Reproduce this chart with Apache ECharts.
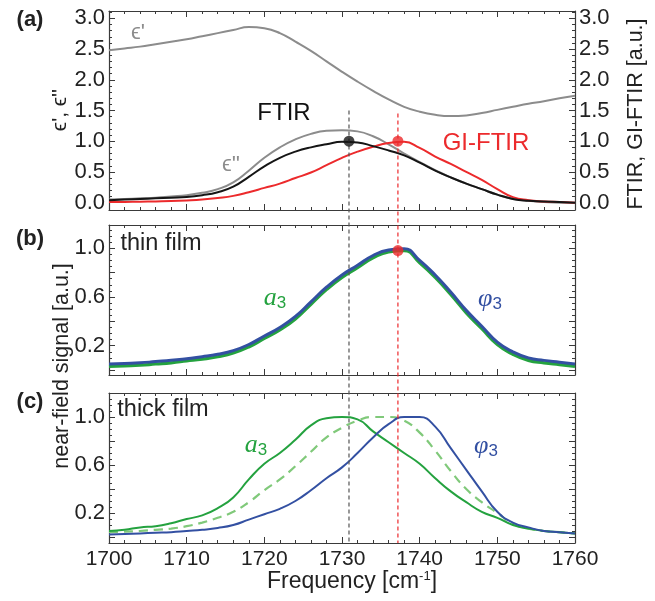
<!DOCTYPE html>
<html><head><meta charset="utf-8">
<script src="https://cdn.jsdelivr.net/npm/echarts@6/dist/echarts.min.js"></script>
<style>html,body{margin:0;padding:0;background:#fff}#c{width:655px;height:601px}</style>
</head><body><div id="c"></div>
<script>
// ---------- data ----------
const freq = [1700,1702,1704,1706,1708,1710,1712,1714,1716,1718,1720,1722,1724,1726,1728,1730,1732,1734,1736,1738,1740,1742,1744,1746,1748,1750,1752,1754,1756,1758,1760];
const xTicks = [1700,1710,1720,1730,1740,1750,1760];
// panel (a)
const epsReal = [2.48,2.51,2.54,2.58,2.62,2.66,2.71,2.76,2.81,2.86,2.84,2.76,2.62,2.47,2.30,2.13,1.97,1.82,1.68,1.56,1.48,1.43,1.41,1.42,1.46,1.51,1.56,1.61,1.65,1.70,1.74];
const epsImag = [0.05,0.06,0.07,0.08,0.10,0.12,0.16,0.22,0.33,0.52,0.73,0.90,1.03,1.12,1.17,1.18,1.16,1.08,0.95,0.80,0.66,0.53,0.41,0.31,0.22,0.13,0.06,0.03,0.01,0.0,0.0];
const ftir = [0.04,0.05,0.06,0.07,0.08,0.09,0.12,0.17,0.26,0.42,0.59,0.73,0.83,0.90,0.95,0.99,0.98,0.92,0.85,0.77,0.65,0.52,0.41,0.31,0.22,0.13,0.06,0.03,0.02,0.01,0.0];
const giftir = [0.01,0.012,0.015,0.02,0.025,0.035,0.05,0.075,0.11,0.17,0.24,0.31,0.40,0.49,0.61,0.73,0.83,0.91,0.97,0.99,0.89,0.75,0.63,0.50,0.37,0.22,0.09,0.04,0.02,0.01,0.0];
const aTicks = [0,0.5,1.0,1.5,2.0,2.5,3.0];
const ftirPeak = [1730.9, 1.0];
const giftirPeak = [1737.2, 1.0];
// panel (b) thin film
const thinAmp = [0.03,0.035,0.04,0.05,0.06,0.075,0.09,0.11,0.14,0.19,0.26,0.33,0.42,0.54,0.66,0.76,0.84,0.92,0.97,0.98,0.88,0.76,0.62,0.47,0.34,0.21,0.13,0.08,0.06,0.045,0.03];
const thinPhi = [0.05,0.055,0.06,0.07,0.08,0.094,0.11,0.13,0.16,0.21,0.28,0.35,0.44,0.56,0.68,0.78,0.86,0.94,0.985,0.995,0.90,0.78,0.64,0.49,0.36,0.23,0.15,0.10,0.08,0.065,0.05];
const thinPeak = [1737.2, 0.98];
// panel (c) thick film
const thickAmp = [0.05,0.06,0.08,0.09,0.115,0.15,0.18,0.24,0.33,0.48,0.61,0.70,0.81,0.93,0.99,1.0,0.98,0.88,0.79,0.70,0.61,0.49,0.38,0.29,0.21,0.16,0.10,0.07,0.05,0.04,0.03];
const thickAmpDash = [0.04,0.045,0.05,0.06,0.07,0.09,0.12,0.16,0.21,0.29,0.39,0.48,0.59,0.71,0.83,0.91,0.97,1.0,1.0,0.97,0.87,0.72,0.55,0.40,0.29,0.20,0.11,0.07,0.05,0.04,0.03];
const thickPhi = [0.02,0.025,0.03,0.035,0.04,0.05,0.06,0.075,0.10,0.145,0.19,0.235,0.30,0.39,0.49,0.58,0.70,0.83,0.94,1.0,1.0,0.92,0.74,0.56,0.38,0.21,0.12,0.08,0.05,0.04,0.03];
const nfTicks = [0,0.2,0.4,0.6,0.8,1.0,1.2];
const nfLabels = [0.2,0.6,1.0];
const lineFreqs = [1730.9, 1737.2];

// ---------- helpers ----------
const FONT = "'Liberation Sans','DejaVu Sans',Arial,sans-serif";
const FRAME = '#3a3a3a';
const pairs = arr => freq.map((f,i)=>[f,arr[i]]);
function range(a,b,s){const r=[];for(let v=a;v<=b+1e-9;v+=s)r.push(+v.toFixed(3));return r;}

const grids = [
  {left:109, top:11,  width:466, height:199},
  {left:109, top:225, width:466, height:150},
  {left:109, top:393, width:466, height:150}
];
const yRanges = [[-0.12,3.12],[-0.04,1.19],[-0.05,1.2]];
const majorTicks = [aTicks, nfTicks, nfTicks];
const labelVals = [aTicks, nfLabels, nfLabels];
const minorTicks = [range(0,3.1,0.1), range(0,1.15,0.05), range(0,1.15,0.05)];

const grid=[], xAxis=[], yAxis=[];
for (let g=0; g<3; g++){
  grid.push(Object.assign({containLabel:false}, grids[g]));
  ['bottom','top'].forEach((pos,k)=>{
    xAxis.push({gridIndex:g, type:'value', position:pos, min:1700, max:1760, interval:10,
      axisLine:{show:true, onZero:false, lineStyle:{color:FRAME,width:1.2}},
      axisTick:{show:true, inside:true, length:6, lineStyle:{color:FRAME}},
      minorTick:{show:true, splitNumber:5, length:3, lineStyle:{color:FRAME}},
      splitLine:{show:false}, minorSplitLine:{show:false},
      axisLabel:{show:(g===2 && k===0), margin:6, fontSize:21, color:'#222', fontFamily:FONT,
        customValues:xTicks, formatter:v=>String(Math.round(v))}
    });
  });
  ['left','right'].forEach((pos,k)=>{
    yAxis.push({gridIndex:g, type:'value', position:pos, min:yRanges[g][0], max:yRanges[g][1],
      axisLine:{show:true, onZero:false, lineStyle:{color:FRAME,width:1.2}},
      axisTick:{show:true, inside:true, length:6, lineStyle:{color:FRAME}, customValues:majorTicks[g]},
      splitLine:{show:false},
      axisLabel:{show:(k===0 || g===0), margin:4, fontSize:22, color:'#222', fontFamily:FONT,
        customValues:labelVals[g], formatter:v=>(+v).toFixed(1)}
    });
  });
}
// duplicate grids only for minor y ticks
for (let g=0; g<3; g++){
  grid.push(Object.assign({}, grids[g]));
  xAxis.push({gridIndex:3+g, type:'value', min:1700, max:1760, show:false});
  ['left','right'].forEach(pos=>{
    yAxis.push({gridIndex:3+g, type:'value', position:pos, min:yRanges[g][0], max:yRanges[g][1],
      axisLine:{show:false}, splitLine:{show:false}, axisLabel:{show:false},
      axisTick:{show:true, inside:true, length:3, lineStyle:{color:FRAME}, customValues:minorTicks[g]}
    });
  });
}

const GRAY='#8c8c8c', RED='#ec2a2c', BLACK='#151515', GREEN='#24a23f', BLUE='#3350a2', LGREEN='#80c97a';
function line(name,arr,g,color,width,extra){
  return Object.assign({name, type:'line', xAxisIndex:2*g, yAxisIndex:2*g, data:pairs(arr),
    smooth:0.5, showSymbol:false, symbol:'none', lineStyle:{color,width}, z:3, silent:true}, extra||{});
}
function dot(pt,g,color){
  return {type:'scatter', xAxisIndex:2*g, yAxisIndex:2*g, data:[pt], symbol:'circle', symbolSize:11,
    itemStyle:{color}, z:20, silent:true};
}
const series = [
  line('epsReal',epsReal,0,GRAY,2),
  line('epsImag',epsImag,0,GRAY,2),
  line('giftir',giftir,0,RED,2),
  line('ftir',ftir,0,BLACK,2),
  dot(ftirPeak,0,BLACK), dot(giftirPeak,0,RED),
  line('thinAmp',thinAmp,1,GREEN,3.2),
  line('thinPhi',thinPhi,1,BLUE,3,{z:4}),
  dot(thinPeak,1,RED),
  line('thickAmpDash',thickAmpDash,2,LGREEN,2.2,{lineStyle:{color:LGREEN,width:2.2,type:[9,6]}}),
  line('thickAmp',thickAmp,2,GREEN,2),
  line('thickPhi',thickPhi,2,BLUE,2)
];

function txt(text,x,y,opt){
  return {type:'text', x, y, rotation:(opt&&opt.rot)||0, z:30, silent:true,
    style:Object.assign({text, fill:'#222', font:'21px '+FONT, align:'center', verticalAlign:'middle'}, (opt&&opt.style)||{})};
}
const subRich = (color) => ({
  i:{fontFamily:"'Liberation Serif','DejaVu Serif',serif", fontStyle:'italic', fontSize:26, fill:color, color:color},
  s:{fontFamily:FONT, fontSize:17, fill:color, color:color, padding:[10,0,0,0]}
});
const texts = [
  txt('(a)',30,20,{style:{font:'bold 22px '+FONT}}),
  txt('(b)',30,239,{style:{font:'bold 22px '+FONT}}),
  txt('(c)',30,402,{style:{font:'bold 22px '+FONT}}),
  txt("ϵ', ϵ''",60,110,{rot:Math.PI/2}),
  txt('FTIR, GI-FTIR [a.u.]',636,114,{rot:Math.PI/2,style:{font:'21.5px '+FONT}}),
  txt('near-field signal [a.u.]',62,366,{rot:Math.PI/2,style:{font:'21.5px '+FONT}}),
  {type:'text', x:352, y:582, z:30, silent:true, style:{text:'Frequency [cm{sup|-1}]', fill:'#222', font:'23px '+FONT,
    align:'center', verticalAlign:'middle', rich:{sup:{fontSize:13, fontFamily:FONT, fill:'#222', padding:[0,0,12,0]}}}},
  txt("ϵ'",138,33,{style:{fill:GRAY, font:'22px '+FONT}}),
  txt("ϵ''",231,165,{style:{fill:GRAY, font:'22px '+FONT}}),
  txt('FTIR',284,113,{style:{font:'24px '+FONT, fill:'#111'}}),
  txt('GI-FTIR',486,143,{style:{font:'24px '+FONT, fill:RED}}),
  txt('thin film',161,244,{style:{font:'23.5px '+FONT}}),
  txt('thick film',163,410,{style:{font:'23.5px '+FONT}}),
  {type:'text', x:275, y:298, z:30, silent:true, style:{text:'{i|a}{s|3}', align:'center', verticalAlign:'middle', rich:subRich(GREEN)}},
  {type:'text', x:490, y:299, z:30, silent:true, style:{text:'{i|φ}{s|3}', align:'center', verticalAlign:'middle', rich:subRich(BLUE)}},
  {type:'text', x:256, y:445, z:30, silent:true, style:{text:'{i|a}{s|3}', align:'center', verticalAlign:'middle', rich:subRich(GREEN)}},
  {type:'text', x:486, y:446, z:30, silent:true, style:{text:'{i|φ}{s|3}', align:'center', verticalAlign:'middle', rich:subRich(BLUE)}}
];

const chart = echarts.init(document.getElementById('c'), null, {renderer:'canvas'});
chart.setOption({animation:false, backgroundColor:'#fff', grid, xAxis, yAxis, series, graphic:texts});

// vertical dashed guide lines spanning all panels, positioned through the axes
const tops = [1.5, 1.45];
const colors = ['#555555', RED];
const lines = lineFreqs.map((f,i)=>{
  const x = chart.convertToPixel({xAxisIndex:0}, f);
  const y1 = chart.convertToPixel({yAxisIndex:0}, tops[i]);
  const y2 = chart.convertToPixel({yAxisIndex:4}, yRanges[2][0]);
  return {type:'line', z:10, silent:true, shape:{x1:x, y1:y1, x2:x, y2:y2},
    style:{stroke:colors[i], lineWidth:1.2, lineDash:[4,3]}};
});
chart.setOption({graphic: texts.concat(lines)});
</script></body></html>
